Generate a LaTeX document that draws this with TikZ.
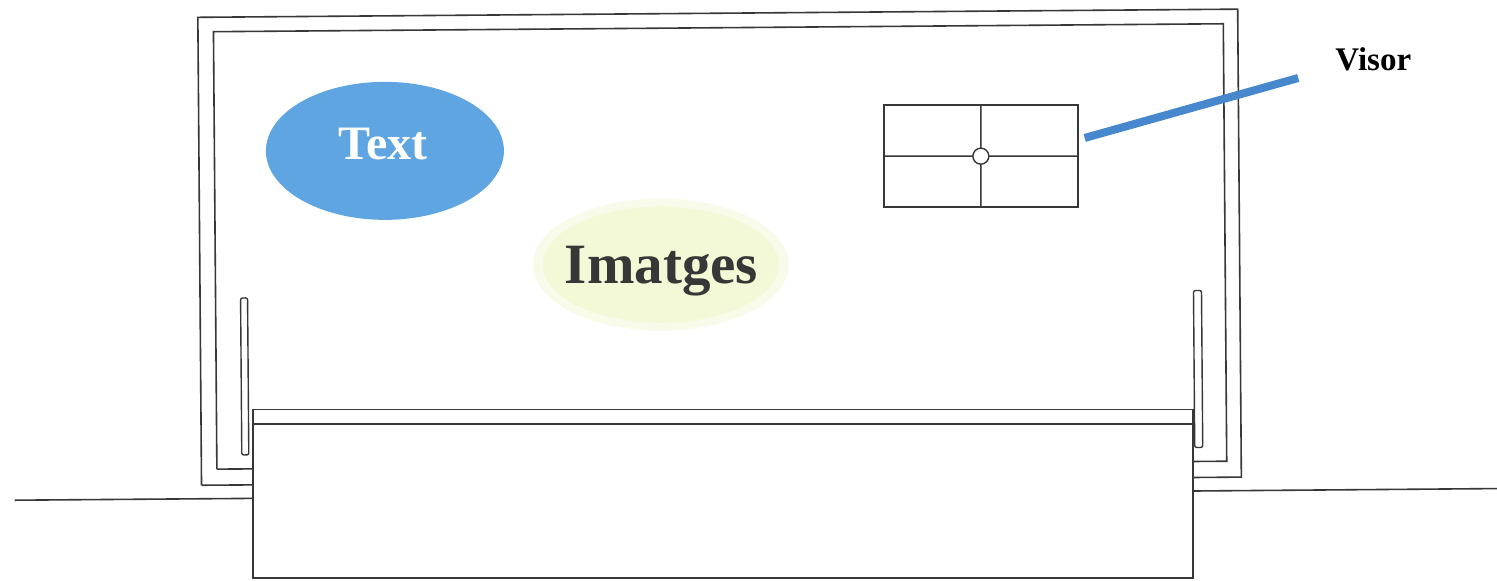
\documentclass[tikz,border=0pt]{standalone}
\usepackage{fontspec}
\setmainfont{Liberation Serif}
\usetikzlibrary{shapes.geometric}
\definecolor{ln}{RGB}{55,55,55}
\definecolor{blob}{RGB}{95,165,225}
\definecolor{bar}{RGB}{70,135,205}
\definecolor{pale}{RGB}{243,248,214}
\definecolor{paler}{RGB}{249,251,234}
\definecolor{imtxt}{RGB}{55,55,55}
\tikzset{
  edge/.style={draw=ln, line width=1.6pt},
  thin edge/.style={draw=ln, line width=1.4pt},
  blobnode/.style={ellipse, inner sep=0pt, draw=none},
  lbl/.style={anchor=base, inner sep=0pt, font=\bfseries},
}
\begin{document}
\begin{tikzpicture}[x=1pt,y=-1pt]
\useasboundingbox[fill=white] (0,0) rectangle (1497,581);
\begin{scope}[rotate around={0.45:(748,290)}]
  % frame (outer and inner outlines)
  \coordinate (oBL) at (200,481);
  \coordinate (oTL) at (200,13);
  \coordinate (oTR) at (1240,13);
  \coordinate (oBR) at (1240,481);
  \coordinate (iBL) at (215.5,465);
  \coordinate (iTL) at (215.5,27.5);
  \coordinate (iTR) at (1225.5,27.5);
  \coordinate (iBR) at (1225.5,465);
  \draw[edge] (oBL) -- (oTL) -- (oTR) -- (oBR) -- (1180,481);
  \draw[edge] (iBL) -- (iTL) -- (iTR) -- (iBR) -- (1180,465);
  \draw[edge] (oBL) -- (260,481);
  \draw[edge] (iBL) -- (260,465);
  % ground line
  \coordinate (gL) at (13,494.5);
  \coordinate (gR) at (1505,494.5);
  \draw[edge] (gL) -- (260,494.5);
  \draw[edge] (1180,494.5) -- (gR);
  % posts
  \draw[thin edge, rounded corners=2pt] (240.5,294) rectangle (247.5,451);
  \draw[thin edge, rounded corners=2pt] (1193.5,294) rectangle (1201.5,451);
  % front box
  \node[edge, fill=white, rectangle, inner sep=0pt, minimum width=939.5pt, minimum height=168.5pt, anchor=north west] (box) at (251.5,405) {};
  \draw[edge] ([yshift=-15pt]box.north west) -- ([yshift=-15pt]box.north east);
  % blobs
  \node[blobnode, fill=blob, minimum width=238pt, minimum height=138pt] (textblob) at (386,148) {};
  \node[lbl, text=white, font=\bfseries\fontsize{48}{50}\selectfont] (textlbl) at (384,157) {Text};
  \node[blobnode, fill=paler, minimum width=256pt, minimum height=132pt] (imgblobo) at (661,264) {};
  \node[blobnode, fill=pale, minimum width=236pt, minimum height=116pt] (imgblob) at (661,264) {};
  \node[lbl, text=imtxt, font=\bfseries\fontsize{57}{60}\selectfont] (imglbl) at (661.5,282.5) {Imatges};
  % visor
  \node[thin edge, rectangle, inner sep=0pt, minimum width=194pt, minimum height=102pt] (visor) at (982,158) {};
  \draw[thin edge] (visor.north) -- (visor.south);
  \draw[thin edge] (visor.west) -- (visor.east);
  \node[thin edge, circle, fill=white, inner sep=0pt, minimum size=16pt] (dot) at (visor.center) {};
  % pointer bar and label
  \node[lbl, font=\bfseries\fontsize{33}{35}\selectfont] (visorlbl) at (1375,75) {Visor};
  \coordinate (barA) at (1086,140.6);
  \coordinate (barB) at (1300,82.3);
  \draw[bar, line width=8pt] (barA) -- (barB);
\end{scope}
\end{tikzpicture}
\end{document}
